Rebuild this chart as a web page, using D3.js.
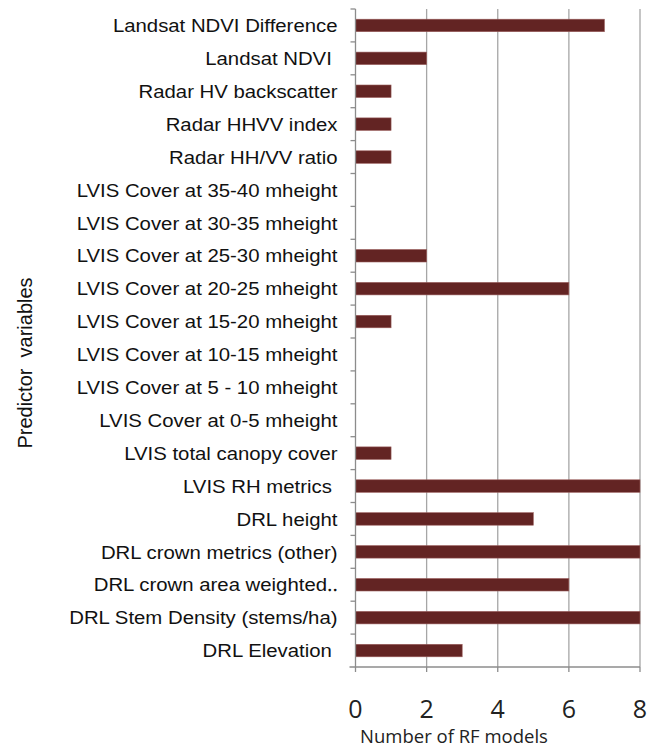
<!DOCTYPE html>
<html>
<head>
<meta charset="utf-8">
<script src="https://cdn.jsdelivr.net/npm/d3@7"></script>
<style>
  body { margin: 0; background: #fff; }
  svg { display: block; }
</style>
</head>
<body>
<div id="bar-chart"><svg width="657" height="750"></svg></div>
<script>
// predictor names, top to bottom (trailing spaces kept as in the original)
var predictors = [
    "Landsat NDVI Difference",
    "Landsat NDVI ",
    "Radar HV backscatter",
    "Radar HHVV index",
    "Radar HH/VV ratio",
    "LVIS Cover at 35-40 mheight",
    "LVIS Cover at 30-35 mheight",
    "LVIS Cover at 25-30 mheight",
    "LVIS Cover at 20-25 mheight",
    "LVIS Cover at 15-20 mheight",
    "LVIS Cover at 10-15 mheight",
    "LVIS Cover at 5 - 10 mheight",
    "LVIS Cover at 0-5 mheight",
    "LVIS total canopy cover",
    "LVIS RH metrics ",
    "DRL height",
    "DRL crown metrics (other)",
    "DRL crown area weighted\u2025",
    "DRL Stem Density (stems/ha)",
    "DRL Elevation "
];

// number of RF models using each predictor
var modelCounts = [7, 2, 1, 1, 1, 0, 0, 2, 6, 1, 0, 0, 0, 1, 8, 5, 8, 6, 8, 3];

var xTicks = [0, 2, 4, 6, 8];

var dataset = predictors.map(function (p, i) { return {name: p, val: modelCounts[i]}; });

var svg = d3.select("#bar-chart").select("svg");

var margin = {top: 9, right: 17, bottom: 83, left: 355.5};
var width = +svg.attr("width") - margin.left - margin.right,
    height = +svg.attr("height") - margin.top - margin.bottom;

var g = svg.append("g")
    .attr("transform", "translate(" + margin.left + "," + margin.top + ")");

var x = d3.scaleLinear().domain([0, 8]).range([0, width]);
var y = d3.scaleBand().domain(predictors).range([0, height]).paddingInner(0.62).paddingOuter(0.31);
var yEdges = d3.scaleLinear().domain([0, predictors.length]).range([0, height]);

// vertical gridlines
g.append("g").selectAll("line")
    .data(xTicks.filter(function (d) { return d > 0; }))
    .enter().append("line")
    .attr("x1", function (d) { return x(d); })
    .attr("x2", function (d) { return x(d); })
    .attr("y1", 0)
    .attr("y2", height)
    .attr("stroke", "#a6a6a6")
    .attr("stroke-width", 1.3);

// bars
g.append("g").selectAll("rect")
    .data(dataset)
    .enter().append("rect")
    .attr("x", x(0))
    .attr("y", function (d) { return y(d.name); })
    .attr("width", function (d) { return x(d.val); })
    .attr("height", y.bandwidth())
    .attr("fill", "#632423")
    .attr("stroke", "#9a5e5c")
    .attr("stroke-width", 0.6)
    .attr("display", function (d) { return d.val > 0 ? null : "none"; });

// y axis: line plus ticks at category boundaries
var yAxis = g.append("g").attr("class", "y axis");
yAxis.append("line")
    .attr("x1", 0).attr("x2", 0)
    .attr("y1", 0).attr("y2", height)
    .attr("stroke", "#8c8c8c").attr("stroke-width", 1.3);
yAxis.selectAll("line.tick")
    .data(d3.range(predictors.length))
    .enter().append("line")
    .attr("class", "tick")
    .attr("x1", -5).attr("x2", 0)
    .attr("y1", function (d) { return yEdges(d); })
    .attr("y2", function (d) { return yEdges(d); })
    .attr("stroke", "#8c8c8c").attr("stroke-width", 1.3);
// labels are a little wider than the font in the original, hence the x stretch
yAxis.selectAll("text")
    .data(predictors)
    .enter().append("text")
    .attr("transform", function (d) {
        return "translate(-18," + (y(d) + y.bandwidth() / 2) + ") scale(1.1,1)";
    })
    .attr("dy", "0.36em")
    .attr("text-anchor", "end")
    .style("white-space", "pre")
    .attr("font-family", "'Liberation Sans', Arial, sans-serif")
    .attr("font-size", 18.5)
    .attr("fill", "#111")
    .text(function (d) { return d; });

// x axis
var xAxis = g.append("g").attr("class", "x axis")
    .attr("transform", "translate(0," + height + ")");
xAxis.append("line")
    .attr("x1", -6).attr("x2", width)
    .attr("stroke", "#8c8c8c").attr("stroke-width", 1.3);
xAxis.selectAll("line.tick")
    .data(xTicks)
    .enter().append("line")
    .attr("class", "tick")
    .attr("x1", function (d) { return x(d); })
    .attr("x2", function (d) { return x(d); })
    .attr("y1", 0).attr("y2", 5)
    .attr("stroke", "#8c8c8c").attr("stroke-width", 1.3);
xAxis.selectAll("text")
    .data(xTicks)
    .enter().append("text")
    .attr("x", function (d) { return x(d); })
    .attr("y", 51)
    .attr("text-anchor", "middle")
    .attr("font-family", "'Open Sans', sans-serif")
    .attr("font-size", 25)
    .attr("fill", "#222")
    .text(function (d) { return d; });

// axis titles
svg.append("text")
    .attr("x", 454)
    .attr("y", 743)
    .attr("text-anchor", "middle")
    .attr("font-family", "'Open Sans', sans-serif")
    .attr("font-size", 18.5)
    .attr("fill", "#222")
    .text("Number of RF models");

svg.append("text")
    .attr("transform", "translate(32,363) rotate(-90)")
    .attr("text-anchor", "middle")
    .style("white-space", "pre")
    .attr("font-family", "'Liberation Sans', Arial, sans-serif")
    .attr("font-size", 20)
    .attr("fill", "#111")
    .text("Predictor  variables");
</script>
</body>
</html>
